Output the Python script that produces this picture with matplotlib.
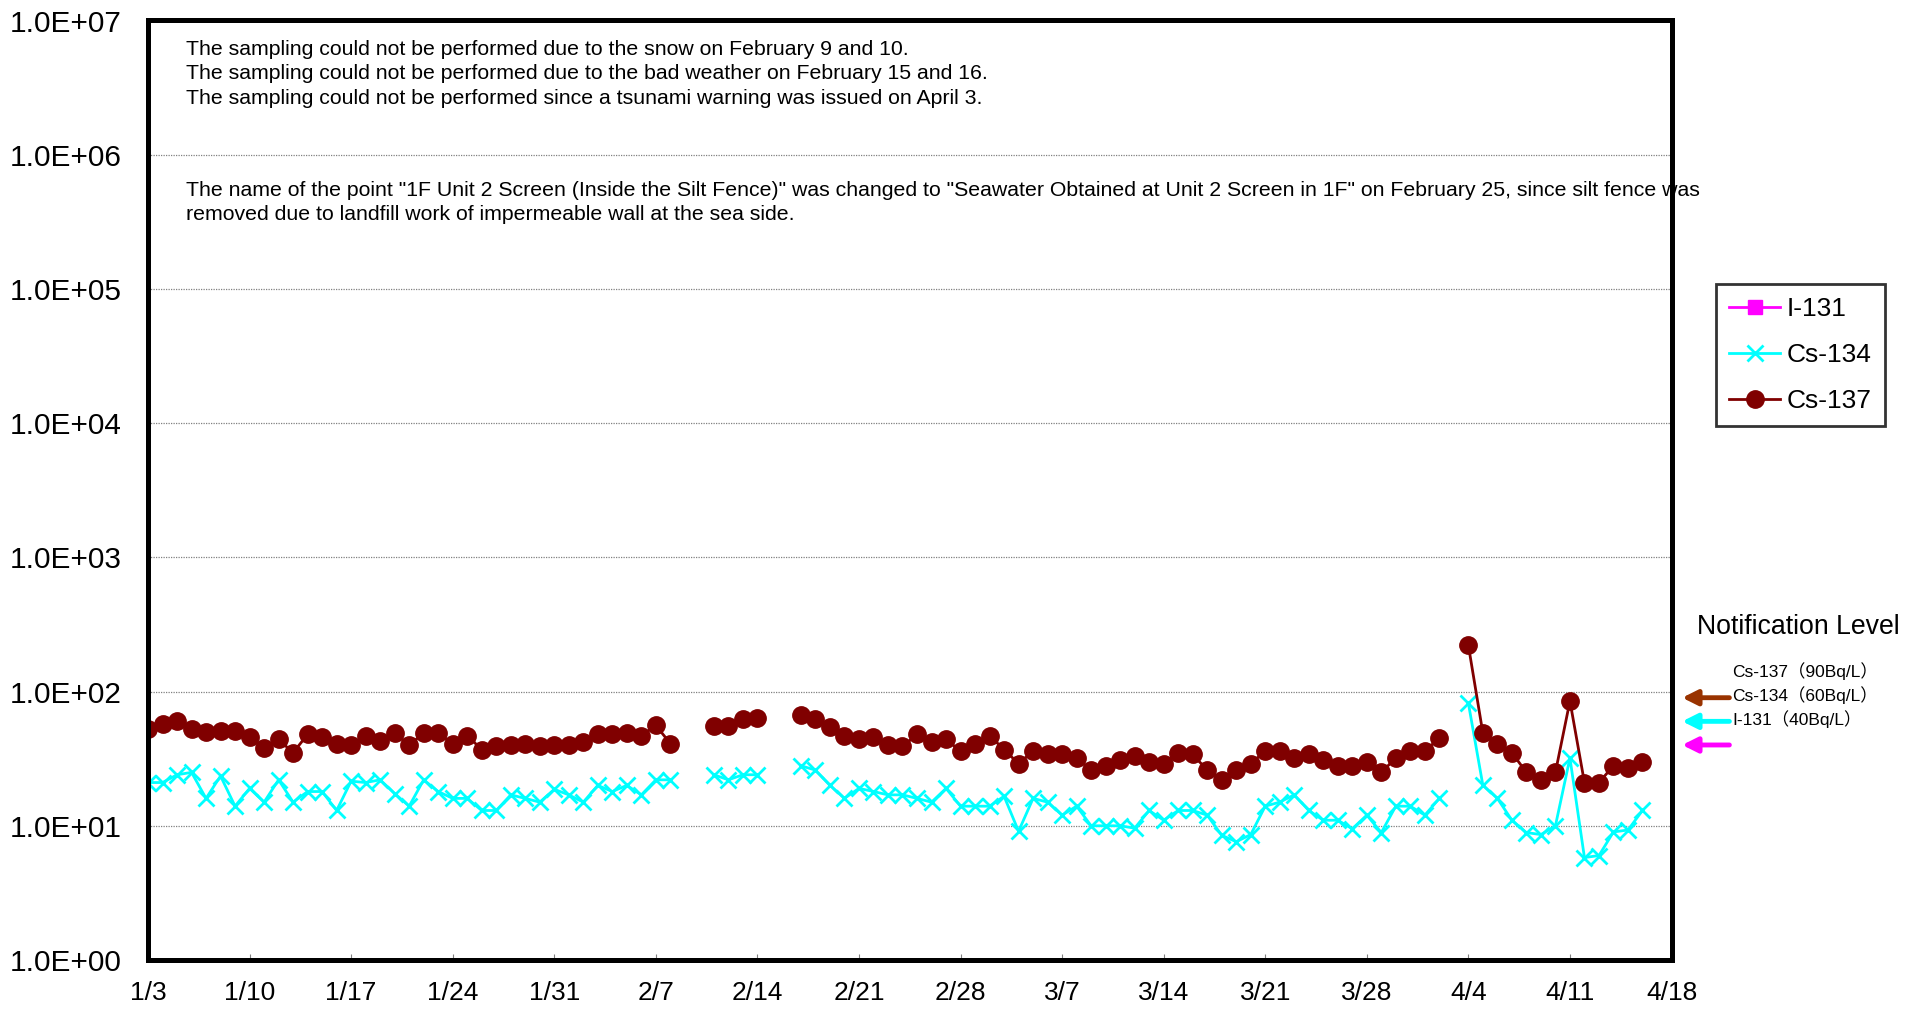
import numpy as np
import pandas as pd
import matplotlib
matplotlib.use("Agg")
import matplotlib.pyplot as plt
from matplotlib.ticker import FixedLocator, FuncFormatter, NullLocator
import matplotlib.transforms as mtransforms

plt.rcParams['font.family'] = ['Liberation Sans', 'Noto Sans CJK JP', 'DejaVu Sans']

# Daily sampling dates, 1/3 - 4/16 (None = no sampling)
dates = pd.date_range("2014-01-03", "2014-04-16", freq="D")

cs137 = [53, 57, 60, 53, 50, 51, 51, 46, 38, 44, 35, 48, 46, 41, 40, 47, 43, 49, 40, 49,
         49, 41, 47, 37, 39, 40, 41, 39, 40, 40, 42, 48, 48, 49, 47, 56, 41,
         None, None,
         55, 55, 63, 64,
         None, None,
         67, 63, 54, 47, 44, 46, 40, 39, 48, 42, 44, 36, 41, 47, 37, 29, 36, 34, 34, 32,
         26, 28, 31, 33, 30, 29, 35, 34, 26, 22,
         26, 29, 36, 36, 32, 34, 31, 28, 28, 30, 25, 32, 36, 36, 45,
         None,
         221, 49, 41, 35, 25, 22, 25, 85, 21, 21, 28, 27, 30]

cs134 = [21, 21, 24, 25, 16, 23.5, 14, 19, 15, 22, 15, 18, 18, 13, 21.5, 21, 22, 17.4, 14, 22,
         18, 16, 16, 13, 13, 17, 16, 15, 18.7, 17, 15, 20, 18, 20, 17, 22, 22,
         None, None,
         24, 22, 24, 24,
         None, None,
         28, 26, 20, 16, 19, 18, 17, 17, 16, 15, 19, 14, 14, 14, 16.6, 9.1, 16, 15, 12, 14,
         10, 10, 10, 9.6, 13, 11, 13, 13, 12, 8.5,
         7.6, 8.6, 14, 15, 17, 13, 11, 11, 9.5, 12, 8.9, 14, 14, 12, 16,
         None,
         82, 20, 16, 11, 8.9, 8.6, 10, 32, 5.8, 6.0, 9.0, 9.3, 13]

# I-131 was not detected on any day
i131 = [None] * len(dates)

# Notification levels (Bq/L)
levels = [("Cs-137", 90, "#993300"), ("Cs-134", 60, "#00FFFF"), ("I-131", 40, "#FF00FF")]

tick_dates = pd.date_range("2014-01-03", "2014-04-18", freq="7D")
tick_labels = [f"{d.month}/{d.day}" for d in tick_dates]

notes = ("The sampling could not be performed due to the snow on February 9 and 10.\n"
         "The sampling could not be performed due to the bad weather on February 15 and 16.\n"
         "The sampling could not be performed since a tsunami warning was issued on April 3.")
note2 = ("The name of the point \"1F Unit 2 Screen (Inside the Silt Fence)\" was changed to "
         "\"Seawater Obtained at Unit 2 Screen in 1F\" on February 25, since silt fence was\n"
         "removed due to landfill work of impermeable wall at the sea side.")


def to_arr(v):
    return np.array([np.nan if x is None else x for x in v], dtype=float)


fig = plt.figure(figsize=(19.19, 10.09), dpi=100)
ax = fig.add_axes([148 / 1919, 1 - 960 / 1009, (1671.5 - 148) / 1919, (960 - 20.5) / 1009])

ax.plot(dates, to_arr(i131), color="#FF00FF", marker="s", markersize=10, lw=2, label="I-131")
ax.plot(dates, to_arr(cs134), color="#00FFFF", marker="x", markersize=11, mew=2, lw=2,
        label="Cs-134")
ax.plot(dates, to_arr(cs137), color="#800000", marker="o", markersize=12.5, lw=2,
        label="Cs-137")

ax.set_yscale("log")
ax.set_ylim(1, 1e7)
ax.yaxis.set_major_locator(FixedLocator([10.0 ** k for k in range(8)]))
ax.yaxis.set_minor_locator(NullLocator())
ax.yaxis.set_major_formatter(FuncFormatter(lambda v, p: f"{v:.1E}"))
ax.grid(axis="y", which="major", color="#808080", ls=(0, (1, 1)), lw=0.9)
ax.tick_params(axis="y", length=0, labelsize=21.4, pad=19)

ax.set_xlim(tick_dates[0], tick_dates[-1])
ax.set_xticks(tick_dates)
ax.set_xticklabels(tick_labels)
ax.tick_params(axis="x", direction="in", length=4, width=0.8, color="#808080",
               labelsize=19, pad=15)

for s in ax.spines.values():
    s.set_linewidth(3.6)
    s.set_color("black")

ax.text(0.025, 0.979, notes, transform=ax.transAxes, fontsize=15.3, va="top",
        linespacing=1.35)
ax.text(0.025, 0.829, note2, transform=ax.transAxes, fontsize=15.3, va="top",
        linespacing=1.35, clip_on=False)

leg = fig.legend(loc="upper left", bbox_to_anchor=(1716 / 1919, 1 - 284 / 1009),
                 borderaxespad=0, fontsize=19, frameon=True, fancybox=False,
                 edgecolor="black", handlelength=1.92, handletextpad=0.25,
                 labelspacing=0.83, borderpad=0.5)
leg.get_frame().set_linewidth(2)

fig.text(1798 / 1919, 1 - 627 / 1009, "Notification Level", fontsize=19.2,
         ha="center", va="center")

trans = mtransforms.blended_transform_factory(ax.transAxes, ax.transData)
for name, val, col in levels:
    ax.annotate("", xy=(1.007, val), xytext=(1.038, val), xycoords=trans,
                textcoords=trans, annotation_clip=False,
                arrowprops=dict(arrowstyle="-|>,head_length=0.9,head_width=0.45",
                                color=col, lw=3.5, shrinkA=0, shrinkB=0))
    ax.annotate(f"{name}（{val}Bq/L）", xy=(1.04, val), xycoords=trans,
                xytext=(0, 19), textcoords="offset points", fontsize=12.5,
                va="center", ha="left", annotation_clip=False)

fig.savefig("out.png", dpi=100)
